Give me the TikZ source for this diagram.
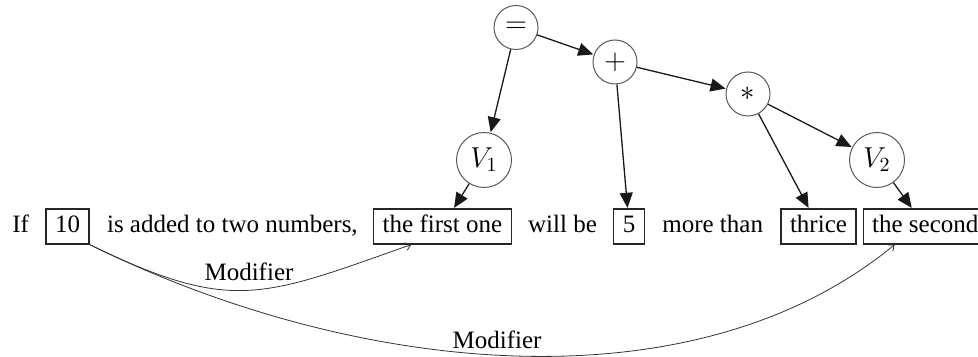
\documentclass[tikz,border=0pt]{standalone}
\usepackage{fontspec}
\setmainfont{Liberation Serif}
\usetikzlibrary{positioning,arrows.meta,calc}

\tikzset{
  word/.style={inner sep=0pt, text height=9pt, text depth=2.5pt},
  wordbox/.style={draw=black!85, line width=0.6pt, inner xsep=4.5pt, inner ysep=3pt,
    text height=9pt, text depth=2.5pt},
  opnode/.style={circle, draw=black!65, line width=0.5pt, minimum size=22pt, inner sep=0pt,
    font=\fontsize{14.4pt}{16pt}\selectfont},
  varnode/.style={circle, draw=black!65, line width=0.5pt, minimum size=27.5pt, inner sep=0pt,
    font=\fontsize{14.4pt}{16pt}\selectfont},
  tree/.style={line width=0.65pt, draw=black!90, -{Triangle[length=7.5pt,width=6.5pt]}, shorten >=0.3pt},
  modifier/.style={line width=0.4pt, draw=black!80, -{Straight Barb[length=2.5pt,width=4pt]}},
  lbl/.style={inner sep=0pt}
}

\begin{document}
\begin{tikzpicture}[x=0.5pt, y=-0.5pt, font=\fontsize{12.5pt}{15pt}\selectfont]
  \useasboundingbox (0,0) rectangle (978,357);

  % sentence row
  \node[word, anchor=base west] (w-if) at (12,233) {If};
  \node[wordbox, base right=8pt of w-if] (b-ten) {10};
  \node[word, base right=8.5pt of b-ten] (w-added) {is added to two numbers,};
  \node[wordbox, base right=7.5pt of w-added] (b-first) {the first one};
  \node[word, base right=8pt of b-first] (w-willbe) {will be};
  \node[wordbox, base right=8pt of w-willbe] (b-five) {5};
  \node[word, base right=8.5pt of b-five] (w-more) {more than};
  \node[wordbox, base right=8.5pt of w-more] (b-thrice) {thrice};
  \node[wordbox, base right=3pt of b-thrice] (b-second) {the second};

  % expression tree
  \node[opnode] (eq)   at (516,27.5) {$=$};
  \node[opnode] (plus) at (615,62)   {$+$};
  \node[opnode] (star) at (748,94)   {$*$};
  \node[varnode] (v1)  at (484,160)  {$V_1$};
  \node[varnode] (v2)  at (877,160)  {$V_2$};

  \draw[tree] (eq) -- (v1);
  \draw[tree] (eq) -- (plus);
  \draw[tree] (plus) -- (b-five);
  \draw[tree] (plus) -- (star);
  \draw[tree] (star) -- (b-thrice);
  \draw[tree] (star) -- (v2);
  \draw[tree] (v1) -- (b-first);
  \draw[tree] (v2) -- (b-second);

  % modifier links
  \draw[modifier] (b-ten.south east)
    .. controls +(142,69) and +(-150,53) ..
    ($(b-first.south west)!0.275!(b-first.south east)$);
  \draw[modifier] (b-ten.south east)
    .. controls +(268,132) and +(-200,165) ..
    ($(b-second.south west)!0.256!(b-second.south east)$);

  \node[lbl] (m1) at (249,272) {Modifier};
  \node[lbl] (m2) at (497,340) {Modifier};
\end{tikzpicture}
\end{document}
